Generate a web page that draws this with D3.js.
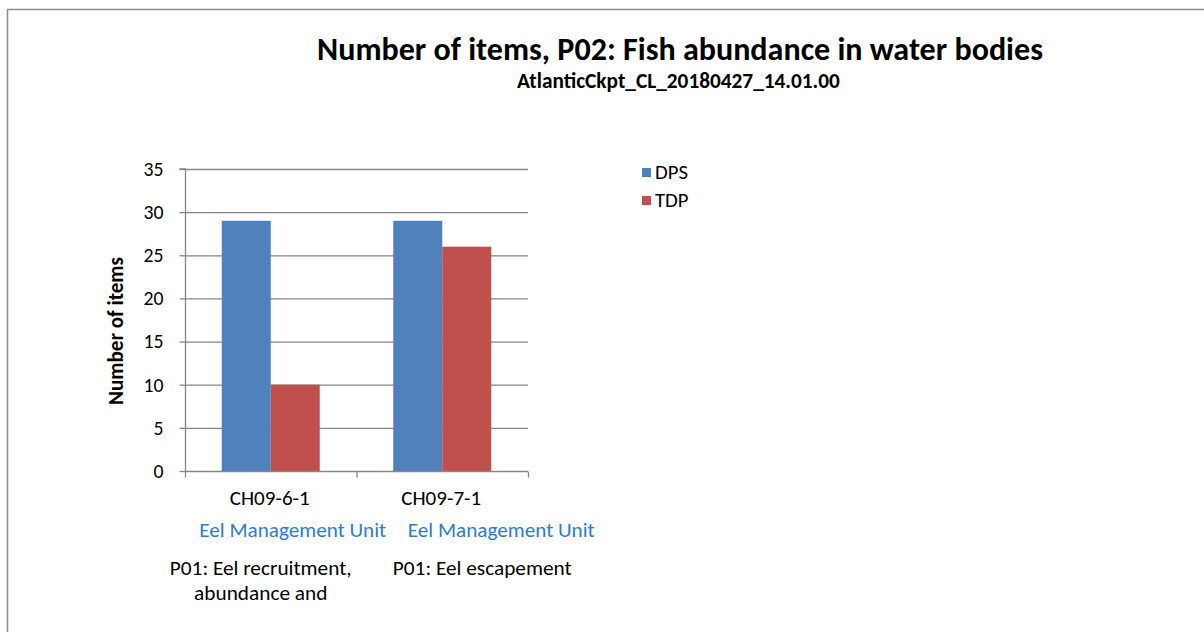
<!DOCTYPE html>
<html><head><meta charset="utf-8">
<script src="https://cdn.jsdelivr.net/npm/d3@7"></script>
<style>
body{margin:0;background:#fff;}
text{font-family:Carlito, Calibri, Lato, "Open Sans", sans-serif;}
</style></head>
<body><svg id="c" width="1204" height="632"></svg>
<script>
const categories = ["CH09-6-1", "CH09-7-1"];
const level2 = ["Eel Management Unit", "Eel Management Unit"];
const level3 = [["P01: Eel recruitment,", "abundance and"], ["P01: Eel escapement"]];
const series = ["DPS", "TDP"];
const dpsValues = [29, 29];
const tdpValues = [10, 26];
const yTicks = [0, 5, 10, 15, 20, 25, 30, 35];
const colors = ["#4F81BD", "#C0504D"];

const svg = d3.select("#c");

// font size that makes `str` render `target` px wide
function fitSize(str, target, bold) {
  const t = svg.append("text").attr("font-size", 100).attr("font-weight", bold ? "bold" : "normal").text(str);
  const L = t.node().getComputedTextLength();
  t.remove();
  return 100 * target / L;
}

svg.append("rect").attr("x", 7.5).attr("y", 9.5).attr("width", 1230).attr("height", 660)
  .attr("fill", "#fff").attr("stroke", "#8c8c8c").attr("stroke-width", 1.5);

const titleStr = "Number of items, P02: Fish abundance in water bodies";
const subStr = "AtlanticCkpt_CL_20180427_14.01.00";
svg.append("text").attr("x", 680).attr("y", 60).attr("text-anchor", "middle")
  .attr("font-weight", "bold").attr("font-size", fitSize(titleStr, 726, true)).attr("fill", "#000")
  .text(titleStr);
svg.append("text").attr("x", 678.5).attr("y", 88).attr("text-anchor", "middle")
  .attr("font-weight", "bold").attr("font-size", fitSize(subStr, 323, true)).attr("fill", "#000")
  .text(subStr);

const x0 = d3.scaleBand().domain(categories).range([185, 528]).padding(0);
const x1 = d3.scaleBand().domain(series).range([0, x0.bandwidth()]).paddingInner(0).paddingOuter(0.75);
const y = d3.scaleLinear().domain([0, 35]).range([471, 169]);

// gridlines
svg.append("g").selectAll("line").data(yTicks.filter(d => d > 0)).join("line")
  .attr("x1", 185).attr("x2", 528).attr("y1", d => y(d) + 0.5).attr("y2", d => y(d) + 0.5)
  .attr("stroke", "#868686").attr("stroke-width", 1.3);

// bars
const data = categories.map((c, i) => ({c, vals: [dpsValues[i], tdpValues[i]]}));
const g = svg.append("g").selectAll("g").data(data).join("g")
  .attr("transform", d => `translate(${x0(d.c)},0)`);
g.selectAll("rect").data(d => d.vals.map((v, j) => ({s: series[j], v, j}))).join("rect")
  .attr("x", d => x1(d.s)).attr("width", x1.bandwidth())
  .attr("y", d => y(d.v)).attr("height", d => y(0) - y(d.v))
  .attr("fill", d => colors[d.j]);

// y axis
const tickSize = fitSize("35", 20, false);
const yAxis = d3.axisLeft(y).tickValues(yTicks).tickSize(6).tickPadding(16);
const ya = svg.append("g").attr("transform", "translate(185.5,0)").call(yAxis);
ya.select(".domain").attr("stroke", "#868686").attr("stroke-width", 1.3).attr("d", `M-6,${y(35)}H0V${y(0)}`);
ya.selectAll(".tick line").attr("stroke", "#868686").attr("stroke-width", 1.3);
ya.selectAll(".tick text").attr("font-size", tickSize).attr("fill", "#000")
  .style("font-family", "Carlito, Calibri, Lato, 'Open Sans', sans-serif");

// x axis
const xa = svg.append("g").attr("transform", `translate(0,${y(0) + 0.5})`);
xa.append("line").attr("x1", 185).attr("x2", 528).attr("stroke", "#868686").attr("stroke-width", 1.3);
const bounds = [x0(categories[0]), ...categories.map(c => x0(c) + x0.bandwidth())];
xa.selectAll("line.t").data(bounds).join("line").attr("class", "t")
  .attr("x1", d => d + 0.5).attr("x2", d => d + 0.5).attr("y1", 0).attr("y2", 6)
  .attr("stroke", "#868686").attr("stroke-width", 1.3);

const cx = c => x0(c) + x0.bandwidth() / 2;
const l2off = [22, 59];
const l3off = [-10, 40];
const s1 = fitSize(categories[0], 80, false);
const s2 = fitSize(level2[0], 187, false);
const s3 = fitSize(level3[0][0], 182, false);
svg.append("g").selectAll("text").data(categories).join("text")
  .attr("x", d => cx(d) - 1).attr("y", 505).attr("text-anchor", "middle")
  .attr("font-size", s1).attr("fill", "#000").text(d => d);
svg.append("g").selectAll("text").data(level2).join("text")
  .attr("x", (d, i) => cx(categories[i]) + l2off[i]).attr("y", 537).attr("text-anchor", "middle")
  .attr("font-size", s2).attr("fill", "#2E7BCF").text(d => d);
level3.forEach((lines, i) => {
  lines.forEach((t, k) => {
    svg.append("text").attr("x", cx(categories[i]) + l3off[i]).attr("y", 575 + k * 25)
      .attr("text-anchor", "middle").attr("font-size", s3).attr("fill", "#000").text(t);
  });
});

// y label
const yLab = "Number of items";
svg.append("text").attr("transform", "translate(123,331) rotate(-90)")
  .attr("text-anchor", "middle").attr("font-weight", "bold").attr("font-size", fitSize(yLab, 148, true))
  .attr("fill", "#000").text(yLab);

// legend
const sl = fitSize("DPS", 33, false);
const lg = svg.append("g").selectAll("g").data(series).join("g")
  .attr("transform", (d, i) => `translate(642,${168 + i * 28})`);
lg.append("rect").attr("width", 9).attr("height", 9).attr("fill", (d, i) => colors[i]);
lg.append("text").attr("x", 13).attr("y", 11).attr("font-size", sl).attr("fill", "#000").text(d => d);
</script></body></html>
